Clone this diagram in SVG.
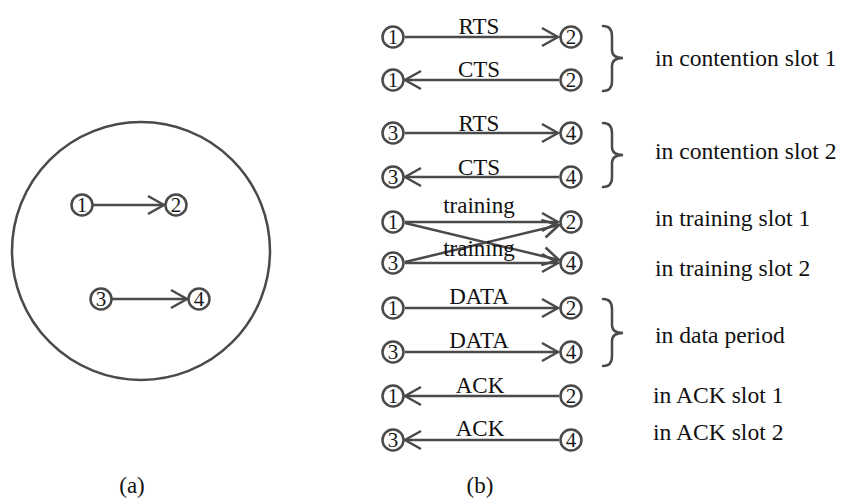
<svg xmlns="http://www.w3.org/2000/svg" width="844" height="502" viewBox="0 0 844 502">
<defs>
<style>
.n{fill:#fff;stroke:#4a4a4a;stroke-width:2.5}
.d{font-family:"Liberation Serif",serif;font-size:21px;fill:#1a1a1a;text-anchor:middle}
.l{font-family:"Liberation Serif",serif;font-size:23px;fill:#111;text-anchor:middle}
.r{font-family:"Liberation Serif",serif;font-size:23.6px;fill:#111}
.e{fill:none;stroke:#4a4a4a;stroke-width:2.5}
.b{fill:none;stroke:#4a4a4a;stroke-width:2.5;stroke-linecap:round}
</style>
<marker id="arr" viewBox="-18 -11 20 22" refX="0" refY="0" markerWidth="20" markerHeight="22" orient="auto" markerUnits="userSpaceOnUse">
<path d="M-16,-9 L0,0 L-16,9" fill="none" stroke="#4a4a4a" stroke-width="2.5"/>
</marker>
</defs>
<rect width="844" height="502" fill="#fff"/>
<g id="panel-a">
<circle cx="141" cy="251" r="129" fill="none" stroke="#4a4a4a" stroke-width="2.5"/>
</g>
<g id="connectors">
<line class="e" x1="93" y1="205" x2="164" y2="205" marker-end="url(#arr)"/>
<line class="e" x1="112" y1="299" x2="187" y2="299" marker-end="url(#arr)"/>
<line class="e" x1="405" y1="37" x2="558" y2="37" marker-end="url(#arr)"/>
<line class="e" x1="559" y1="80" x2="405" y2="80" marker-end="url(#arr)"/>
<line class="e" x1="405" y1="133" x2="558" y2="133" marker-end="url(#arr)"/>
<line class="e" x1="559" y1="177" x2="405" y2="177" marker-end="url(#arr)"/>
<line class="e" x1="405" y1="222" x2="558" y2="222" marker-end="url(#arr)"/>
<line class="e" x1="405" y1="223" x2="559" y2="260" marker-end="url(#arr)"/>
<line class="e" x1="405" y1="262" x2="559" y2="225" marker-end="url(#arr)"/>
<line class="e" x1="405" y1="263" x2="558" y2="263" marker-end="url(#arr)"/>
<line class="e" x1="405" y1="308" x2="558" y2="308" marker-end="url(#arr)"/>
<line class="e" x1="405" y1="352" x2="558" y2="352" marker-end="url(#arr)"/>
<line class="e" x1="559" y1="396" x2="405" y2="396" marker-end="url(#arr)"/>
<line class="e" x1="559" y1="440" x2="405" y2="440" marker-end="url(#arr)"/>
</g>
<g id="nodes-a">
<g id="a1"><circle class="n" cx="82" cy="205" r="10.5"/><text class="d" x="82" y="212">1</text></g>
<g id="a2"><circle class="n" cx="176" cy="205" r="10.5"/><text class="d" x="176" y="212">2</text></g>
<g id="a3"><circle class="n" cx="101" cy="299" r="10.5"/><text class="d" x="101" y="306">3</text></g>
<g id="a4"><circle class="n" cx="199" cy="299" r="10.5"/><text class="d" x="199" y="306">4</text></g>
</g>
<g id="nodes-b">
<g id="r1a"><circle class="n" cx="393" cy="37" r="10.5"/><text class="d" x="393" y="44">1</text></g>
<g id="r1b"><circle class="n" cx="571" cy="37" r="10.5"/><text class="d" x="571" y="44">2</text></g>
<g id="r2a"><circle class="n" cx="393" cy="80" r="10.5"/><text class="d" x="393" y="87">1</text></g>
<g id="r2b"><circle class="n" cx="571" cy="80" r="10.5"/><text class="d" x="571" y="87">2</text></g>
<g id="r3a"><circle class="n" cx="393" cy="133" r="10.5"/><text class="d" x="393" y="140">3</text></g>
<g id="r3b"><circle class="n" cx="571" cy="133" r="10.5"/><text class="d" x="571" y="140">4</text></g>
<g id="r4a"><circle class="n" cx="393" cy="177" r="10.5"/><text class="d" x="393" y="184">3</text></g>
<g id="r4b"><circle class="n" cx="571" cy="177" r="10.5"/><text class="d" x="571" y="184">4</text></g>
<g id="r5a"><circle class="n" cx="393" cy="222" r="10.5"/><text class="d" x="393" y="229">1</text></g>
<g id="r5b"><circle class="n" cx="571" cy="222" r="10.5"/><text class="d" x="571" y="229">2</text></g>
<g id="r6a"><circle class="n" cx="393" cy="263" r="10.5"/><text class="d" x="393" y="270">3</text></g>
<g id="r6b"><circle class="n" cx="571" cy="263" r="10.5"/><text class="d" x="571" y="270">4</text></g>
<g id="r7a"><circle class="n" cx="393" cy="308" r="10.5"/><text class="d" x="393" y="315">1</text></g>
<g id="r7b"><circle class="n" cx="571" cy="308" r="10.5"/><text class="d" x="571" y="315">2</text></g>
<g id="r8a"><circle class="n" cx="393" cy="352" r="10.5"/><text class="d" x="393" y="359">3</text></g>
<g id="r8b"><circle class="n" cx="571" cy="352" r="10.5"/><text class="d" x="571" y="359">4</text></g>
<g id="r9a"><circle class="n" cx="393" cy="396" r="10.5"/><text class="d" x="393" y="403">1</text></g>
<g id="r9b"><circle class="n" cx="571" cy="396" r="10.5"/><text class="d" x="571" y="403">2</text></g>
<g id="r10a"><circle class="n" cx="393" cy="440" r="10.5"/><text class="d" x="393" y="447">3</text></g>
<g id="r10b"><circle class="n" cx="571" cy="440" r="10.5"/><text class="d" x="571" y="447">4</text></g>
</g>
<g id="edge-labels">
<text class="l" x="479" y="34">RTS</text>
<text class="l" x="479" y="77">CTS</text>
<text class="l" x="479" y="131">RTS</text>
<text class="l" x="479" y="175">CTS</text>
<text class="l" x="479" y="213">training</text>
<text class="l" x="479" y="256">training</text>
<text class="l" x="479" y="304">DATA</text>
<text class="l" x="479" y="348">DATA</text>
<text class="l" x="480" y="393">ACK</text>
<text class="l" x="480" y="436">ACK</text>
</g>
<g id="braces">
<path class="b" d="M603,26 Q612,26 612,36 L612,50 Q612,58 623,58 Q612,58 612,66 L612,81 Q612,91 603,91"/>
<path class="b" d="M603,123 Q612,123 612,133 L612,147 Q612,155 623,155 Q612,155 612,163 L612,177 Q612,187 603,187"/>
<path class="b" d="M603,299 Q612,299 612,309 L612,325 Q612,333 623,333 Q612,333 612,341 L612,356 Q612,366 603,366"/>
</g>
<g id="right-labels">
<text class="r" x="655" y="66">in contention slot 1</text>
<text class="r" x="655" y="159">in contention slot 2</text>
<text class="r" x="655" y="226">in training slot 1</text>
<text class="r" x="655" y="276">in training slot 2</text>
<text class="r" x="655" y="343">in data period</text>
<text class="r" x="653" y="403">in ACK slot 1</text>
<text class="r" x="653" y="440">in ACK slot 2</text>
</g>
<g id="captions">
<text class="l" x="132" y="493">(a)</text>
<text class="l" x="480" y="493">(b)</text>
</g>
</svg>
